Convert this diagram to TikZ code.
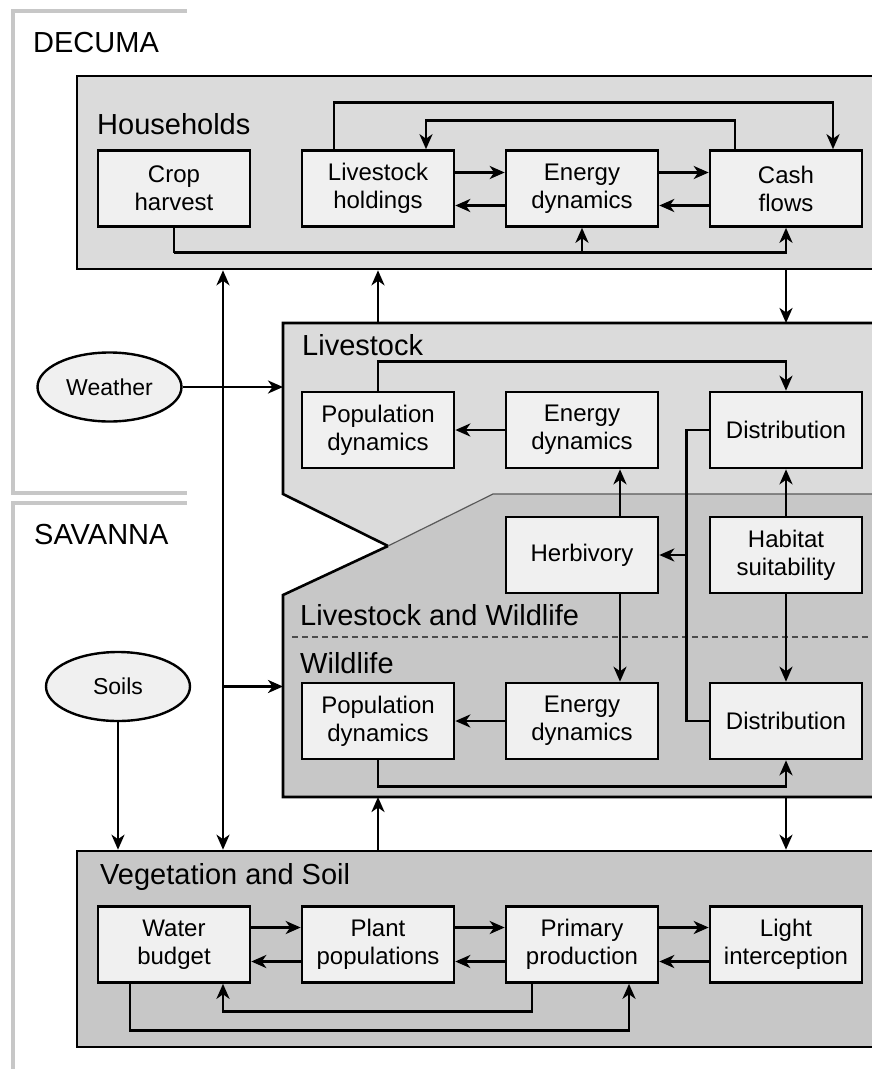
\documentclass[tikz,border=0pt]{standalone}
\usepackage{fontspec}
\setmainfont{Liberation Sans}
\usetikzlibrary{arrows.meta,positioning}
\definecolor{regionlight}{gray}{0.86}
\definecolor{regiondark}{gray}{0.78}
\definecolor{boxfill}{gray}{0.94}
\definecolor{frameline}{gray}{0.78}
\tikzset{
  module/.style={draw,line width=2.6pt,fill=boxfill,minimum width=152pt,minimum height=76pt,
    align=center,inner sep=2pt,font=\fontsize{24}{28}\selectfont},
  driver/.style={draw,line width=2.4pt,fill=boxfill,ellipse,minimum width=144pt,minimum height=69pt,
    inner sep=0pt,font=\fontsize{23}{26}\selectfont},
  region/.style={draw,line width=2.6pt,rectangle,inner sep=0pt},
  title/.style={anchor=west,inner sep=0pt,font=\fontsize{29}{31}\selectfont},
  flow/.style={line width=2.9pt,-{Stealth[length=15pt,width=13pt,inset=4.5pt]}},
  link/.style={line width=2.9pt},
  twoway/.style={line width=2.9pt,{Stealth[length=15pt,width=13pt,inset=4.5pt]}-{Stealth[length=15pt,width=13pt,inset=4.5pt]}}
}
\usetikzlibrary{shapes.geometric}
\begin{document}
\begin{tikzpicture}[x=1pt,y=-1pt]
\useasboundingbox (0,0) rectangle (872,1069);
\clip (0,0) rectangle (872,1069);

\draw[frameline,line width=4.5pt] (187,11) -- (13,11) -- (13,493) -- (187,493);
\draw[frameline,line width=4.5pt] (187,503) -- (13,503) -- (13,1080);
\node[title] (decuma) at (33,43) {DECUMA};
\node[title] (savanna) at (34,535) {SAVANNA};

% regions
\node[region,fill=regionlight,minimum width=823pt,minimum height=193pt] (hh) at (488.5,172.5) {};
\node[region,fill=regiondark,minimum width=823pt,minimum height=196pt] (veg) at (488.5,949) {};
\coordinate (lvNW) at (283,323);
\coordinate (wlSW) at (283,797);
\fill[regionlight] (283,323) -- (900,323) -- (900,494) -- (493,494) -- (388,546) -- (283,494) -- cycle;
\fill[regiondark] (283,595) -- (388,546) -- (493,494) -- (900,494) -- (900,797) -- (283,797) -- cycle;
\draw[line width=2.6pt,line join=miter] (388,546) -- (283,494) -- (lvNW) -- (900,323);
\draw[line width=2.6pt,line join=miter] (388,546) -- (283,595) -- (wlSW) -- (900,797);
\draw[gray!70!black,line width=1.2pt] (388,546) -- (493,494) -- (900,494);
\draw[gray!60!black,line width=1.2pt,dash pattern=on 6pt off 4pt] (292,637) -- (900,637);

\node[title] at (97,124) {Households};
\node[title] at (302,345) {Livestock};
\node[title] at (300,615) {Livestock and Wildlife};
\node[title] at (300,663) {Wildlife};
\node[title] at (100,877) {Vegetation and Soil};

% modules
\node[module] (ch) at (174,188.5) {Crop\\harvest};
\node[module] (lh) at (378,188.5) {Livestock\\holdings};
\node[module] (hhEn) at (582,188.5) {Energy\\dynamics};
\node[module] (cf) at (786,188.5) {Cash\\flows};

\node[module] (lsPop) at (378,430) {Population\\dynamics};
\node[module] (lsEn) at (582,430) {Energy\\dynamics};
\node[module] (lsDist) at (786,430) {Distribution};

\node[module] (herb) at (582,555) {Herbivory};
\node[module] (hab) at (786,555) {Habitat\\suitability};

\node[module] (wlPop) at (378,721) {Population\\dynamics};
\node[module] (wlEn) at (582,721) {Energy\\dynamics};
\node[module] (wlDist) at (786,721) {Distribution};

\node[module] (wb) at (174,944.5) {Water\\budget};
\node[module] (pp) at (378,944.5) {Plant\\populations};
\node[module] (prim) at (582,944.5) {Primary\\production};
\node[module] (light) at (786,944.5) {Light\\interception};

\node[driver] (weather) at (109.5,387) {Weather};
\node[driver] (soils) at (118,686.5) {Soils};

% households
\draw[flow] ([yshift=16pt]lh.east) -- ([yshift=16pt]hhEn.west);
\draw[flow] ([yshift=-17pt]hhEn.west) -- ([yshift=-17pt]lh.east);
\draw[flow] ([yshift=16pt]hhEn.east) -- ([yshift=16pt]cf.west);
\draw[flow] ([yshift=-17pt]cf.west) -- ([yshift=-17pt]hhEn.east);
\draw[flow] ([xshift=-44pt]lh.north) -- ++(0,-47) -| ([xshift=47pt]cf.north);
\draw[flow] ([xshift=-51pt]cf.north) -- ++(0,-29) -| ([xshift=48pt]lh.north);
\coordinate (hhBus) at ([yshift=-25pt]ch.south);
\draw[link] (ch.south) -- (hhBus);
\draw[flow] (hhBus) -| (cf.south);
\draw[flow] (hhBus -| hhEn.south) -- (hhEn.south);

% between regions
\coordinate (spine) at (223,560);
\draw[twoway] (spine |- hh.south) -- (spine |- veg.north);
\draw[flow] (lsPop.north |- lvNW) -- (lsPop.north |- hh.south);
\draw[flow] (cf.south |- hh.south) -- (cf.south |- lvNW);
\draw[flow] (weather.east) -- (weather.east -| lvNW);
\draw[flow] (spine |- soils.east) -- (soils.east -| wlSW);
\draw[flow] (soils.south) -- (soils.south |- veg.north);
\draw[flow] (wlPop.south |- veg.north) -- (wlPop.south |- wlSW);
\draw[flow] (wlDist.south |- wlSW) -- (wlDist.south |- veg.north);

% livestock and wildlife
\draw[flow] (lsEn.west) -- (lsPop.east);
\draw[flow] (lsPop.north) -- ++(0,-29) -| (lsDist.north);
\draw[flow] ([xshift=38pt]herb.north) -- ([xshift=38pt]lsEn.south);
\draw[flow] ([xshift=38pt]herb.south) -- ([xshift=38pt]wlEn.north);
\draw[flow] (hab.north) -- (lsDist.south);
\draw[flow] (hab.south) -- (wlDist.north);
\coordinate (distBus) at ([xshift=-22pt]lsDist.west);
\draw[link] (lsDist.west) -- (distBus) |- (wlDist.west);
\draw[flow] (distBus |- herb.east) -- (herb.east);
\draw[flow] (wlEn.west) -- (wlPop.east);
\draw[flow] (wlPop.south) -- ++(0,26) -| (wlDist.south);

% vegetation and soil
\draw[flow] ([yshift=17pt]wb.east) -- ([yshift=17pt]pp.west);
\draw[flow] ([yshift=-17pt]pp.west) -- ([yshift=-17pt]wb.east);
\draw[flow] ([yshift=17pt]pp.east) -- ([yshift=17pt]prim.west);
\draw[flow] ([yshift=-17pt]prim.west) -- ([yshift=-17pt]pp.east);
\draw[flow] ([yshift=17pt]prim.east) -- ([yshift=17pt]light.west);
\draw[flow] ([yshift=-17pt]light.west) -- ([yshift=-17pt]prim.east);
\draw[flow] ([xshift=-44pt]wb.south) -- ++(0,47) -| ([xshift=47pt]prim.south);
\draw[flow] ([xshift=-50pt]prim.south) -- ++(0,28) -| ([xshift=49pt]wb.south);
\end{tikzpicture}
\end{document}
